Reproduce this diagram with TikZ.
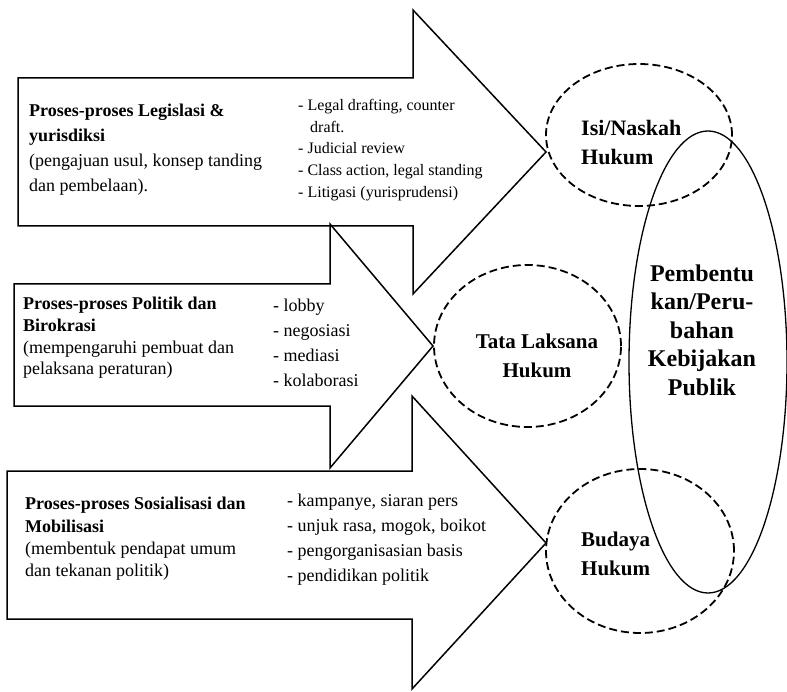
\documentclass[tikz,border=0pt]{standalone}
\usepackage{fontspec}
\setmainfont{Liberation Serif}
\usetikzlibrary{shapes.geometric}
\tikzset{
  panah/.style={draw,line width=1.5pt,line join=miter},
  teks/.style={anchor=west,align=left,inner sep=0pt},
  oval/.style={ellipse,draw,inner sep=0pt},
  putus/.style={oval,line width=1.8pt,dash pattern=on 8pt off 4pt},
  judul/.style={inner sep=0pt,font=\fontsize{21}{29}\selectfont\bfseries}
}

\begin{document}
\begin{tikzpicture}[x=1pt,y=-1pt]
\useasboundingbox (0,0) rectangle (787,692);
\draw[panah] (18,78) -- (413,78) -- (413,10) -- (546,152) -- (413,294) -- (413,226) -- (18,226) -- cycle;
\draw[panah] (14,284) -- (330,284) -- (330,224) -- (433,346) -- (330,468) -- (330,406) -- (14,406) -- cycle;
\draw[panah] (7,471) -- (412,471) -- (412,396) -- (546,543) -- (412,689) -- (412,619) -- (7,619) -- cycle;

\node[teks,font=\fontsize{18}{25}\selectfont] (proses1) at (29,150)
  {\textbf{Proses-proses Legislasi \&}\\\textbf{yurisdiksi}\\(pengajuan usul, konsep tanding\\dan pembelaan).};
\node[teks,font=\fontsize{16}{21.75}\selectfont] (cara1) at (298,150)
  {- Legal drafting, counter\\\hspace*{12pt}draft.\\- Judicial review\\- Class action, legal standing\\- Litigasi (yurisprudensi)};

\node[teks,font=\fontsize{18}{21.7}\selectfont] (proses2) at (23,338)
  {\textbf{Proses-proses Politik dan}\\\textbf{Birokrasi}\\(mempengaruhi pembuat dan\\pelaksana peraturan)};
\node[teks,font=\fontsize{18}{25}\selectfont] (cara2) at (273,343)
  {- lobby\\- negosiasi\\- mediasi\\- kolaborasi};

\node[teks,font=\fontsize{18}{22.3}\selectfont] (proses3) at (25,539)
  {\textbf{Proses-proses Sosialisasi dan}\\\textbf{Mobilisasi}\\(membentuk pendapat umum\\dan tekanan politik)};
\node[teks,font=\fontsize{18}{25}\selectfont] (cara3) at (287,540)
  {- kampanye, siaran pers\\- unjuk rasa, mogok, boikot\\- pengorganisasian basis\\- pendidikan politik};

\node[putus,minimum width=186pt,minimum height=142pt] (isi) at (639,135) {};
\node[putus,minimum width=187pt,minimum height=162pt] (tata) at (527.5,346) {};
\node[putus,minimum width=188pt,minimum height=164pt] (budaya) at (640,551) {};
\node[oval,line width=1.3pt,minimum width=158pt,minimum height=462pt] (kebijakan) at (708,362) {};

\node[judul,anchor=west,align=left,font=\fontsize{22}{29}\selectfont\bfseries] (isiteks) at (581,143) {Isi/Naskah\\Hukum};
\node[judul,align=center] (tatateks) at (537,356) {Tata Laksana\\Hukum};
\node[judul,anchor=west,align=left] (budayateks) at (581,554) {Budaya\\Hukum};
\node[judul,align=center,font=\fontsize{24}{28.5}\selectfont\bfseries] (kebijakanteks) at (702,330)
  {Pembentu\\kan/Peru-\\bahan\\Kebijakan\\Publik};
\end{tikzpicture}
\end{document}
